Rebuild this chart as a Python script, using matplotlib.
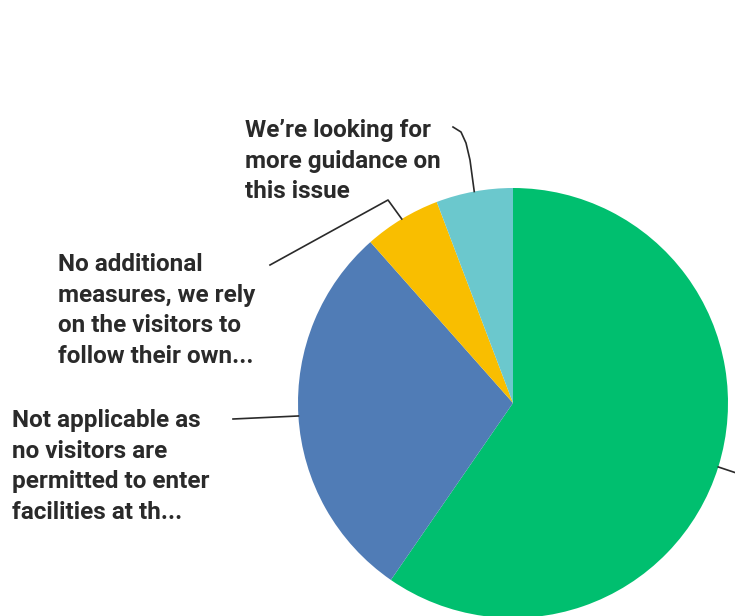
import numpy as np
from matplotlib import pyplot as plt

# survey answers (respondent counts), clockwise from 12 o'clock
counts = [31, 15, 3, 3]
colors = ["#00BF6F", "#507CB6", "#F9BE00", "#6BC8CD"]
labels = [
    "",
    "Not applicable as\nno visitors are\npermitted to enter\nfacilities at th...",
    "No additional\nmeasures, we rely\non the visitors to\nfollow their own...",
    "We\u2019re looking for\nmore guidance on\nthis issue",
]

W, H = 735, 616
fig = plt.figure(figsize=(W / 100, H / 100), dpi=100)
ax = fig.add_axes([0, 0, 1, 1])

cx, cy, R = 513, H - 403, 215
wedges, _ = ax.pie(counts, colors=colors, startangle=90, counterclock=False,
                   center=(cx, cy), radius=R, frame=True,
                   wedgeprops=dict(linewidth=0))
ax.set_xlim(0, W)
ax.set_ylim(0, H)
ax.set_aspect("equal")
ax.axis("off")

# leader line start points at the middle of each wedge edge
fr = np.cumsum([0] + counts) / sum(counts)
mid = (fr[:-1] + fr[1:]) / 2 * 360  # clockwise from top
ex = cx + R * np.sin(np.radians(mid))
ey = cy + R * np.cos(np.radians(mid))

lc = "#2a2a2a"
# green (label off canvas)
ax.plot([ex[0], ex[0] + 30], [ey[0], ey[0] - 10], color=lc, lw=1.2)
# blue
ax.plot([ex[1], 233], [ey[1], H - 419], color=lc, lw=1.2)
# yellow
ax.plot([ex[2], 388, 270], [ey[2], H - 200, H - 265], color=lc, lw=1.2)
# teal
ax.plot([ex[3], 470, 466, 461, 453], [ey[3], H - 160, H - 143, H - 132, H - 127],
        color=lc, lw=1.2)

tkw = dict(fontsize=17.5, fontweight="bold", color="#2a2a2a", family="Roboto",
           ha="left", va="top", linespacing=1.42)
ax.text(12, H - 409, labels[1], **tkw)
ax.text(58, H - 253, labels[2], **tkw)
ax.text(245, H - 119, labels[3], **tkw)

fig.savefig("out.png", dpi=100)
